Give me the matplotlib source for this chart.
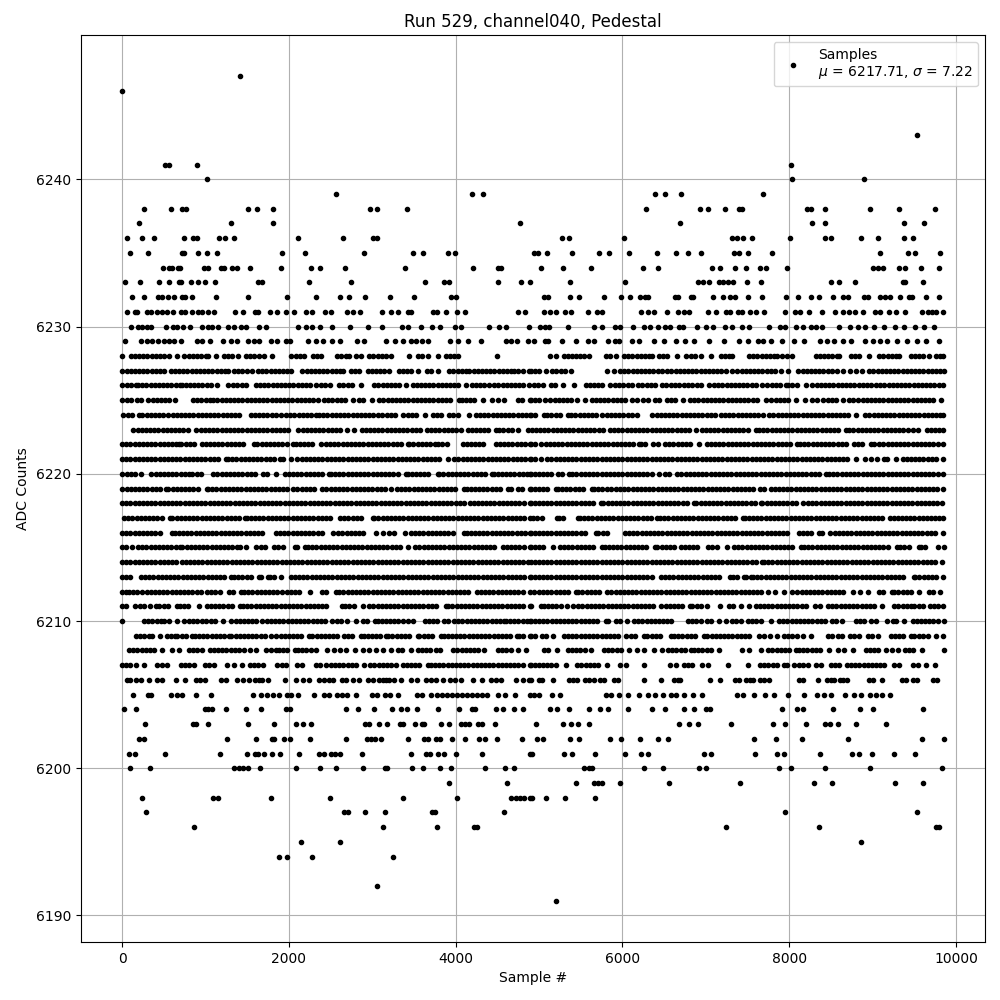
import matplotlib
matplotlib.use("Agg")
import matplotlib.pyplot as plt

TITLE = "Run 529, channel040, Pedestal"
XLABEL = "Sample #"
YLABEL = "ADC Counts"
LEGEND = "Samples\n$\\mu$ = 6217.71, $\\sigma$ = 7.22"

s6247 = [1416]
s6246 = [0]
s6243 = [9536]
s6241 = [516,564,900,8024]
s6240 = [1020,8036,8900]
s6239 = [2568,4200,4332,6392,6512,6704,7688]
s6238 = [264,588,720,768,1512,1620,1812,2976,3060,3420,6284,6932,7028,7232,7400,7436,8212,8260,8432,8972,9320,9752]
s6237 = [204,1308,1812,4776,6692,8276,8432,9380,9620]
s6236 = [60,240,384,744,852,900,1164,1236,1344,2116,2652,3004,3060,5276,5360,6020,7316,7376,7448,7556,8012,8432,8504,8864,9068,9380,9488]
s6235 = [96,312,720,744,912,1020,1140,1920,2196,2904,3492,3612,3912,3996,4940,4988,5096,5396,5720,5840,6080,6416,6644,6788,6944,7340,7400,7508,7796,9092,9428,9512,9812]
s6234 = [492,564,600,672,696,984,1032,1188,1224,1320,1380,1536,1908,2268,2376,2668,3396,4212,4512,4548,5024,5288,5624,6248,6428,7076,7172,7352,7484,7652,7724,7976,9008,9068,9128,9320,9392,9584,9800]
s6233 = [36,216,444,564,684,708,828,912,996,1116,1632,1680,2244,2748,3636,3864,3924,4512,4788,4896,5372,6032,6908,6968,7040,7160,7208,7268,7328,7496,7664,8504,8600,8792,9368,9392,9608]
s6232 = [120,264,432,480,552,624,720,756,840,1128,1512,1980,2328,2608,2716,2916,3216,3504,3948,4008,5060,5108,5372,5480,5780,5984,6092,6212,6272,6308,6632,6668,6824,6848,7088,7208,7292,7352,7508,7676,7964,8108,8264,8360,8528,8648,8708,8900,8948,9092,9152,9212,9332,9440,9476,9644,9800]
s6231 = [60,156,180,300,348,420,480,540,612,708,756,840,912,960,1032,1104,1356,1452,1596,1632,1776,1860,1968,2064,2208,2280,2436,2508,2700,2772,2856,3120,3228,3312,3432,3468,3732,3780,3888,4020,4116,4752,4836,5060,5132,5204,5312,5384,5588,5696,5756,6224,6308,6380,6536,6668,6740,6800,7028,7124,7244,7292,7388,7436,7532,7604,7700,7952,8072,8132,8240,8396,8552,8648,8720,8792,8888,9032,9092,9200,9284,9392,9596,9668,9716,9764,9848]
s6230 = [108,192,240,300,348,528,612,660,732,816,960,1032,1080,1152,1272,1344,1428,1488,1644,1728,2112,2208,2280,2376,2520,2736,2952,3120,3360,3432,3588,3720,3816,3996,4068,4404,4524,4608,4884,5012,5072,5120,5348,5660,5756,5912,5972,6128,6260,6332,6428,6512,6572,6680,6728,6896,7004,7088,7232,7316,7436,7520,7760,7892,7952,8084,8168,8264,8324,8396,8600,8732,8828,8912,9020,9140,9272,9380,9512,9620,9740]
s6229 = [36,228,300,360,432,504,564,624,708,900,960,1056,1212,1308,1380,1512,1584,1644,1788,1860,1968,2016,2232,2328,2412,2520,2616,2820,2904,3168,3276,3372,3468,3528,3600,3672,3936,4032,4152,4308,4608,4668,4740,4872,4940,5072,5108,5276,5444,5588,5660,5828,5912,5960,6116,6200,6380,6500,6644,6752,6860,7040,7220,7400,7508,7628,7688,7784,7916,8060,8180,8372,8456,8540,8648,8744,8912,9008,9092,9176,9296,9416,9536,9644,9800]
s6228 = [0,104,154,204,254,304,354,404,454,504,564,660,744,804,852,902,952,1002,1032,1128,1224,1274,1324,1392,1484,1534,1584,1644,1704,1800,2032,2082,2132,2184,2288,2338,2384,2576,2626,2684,2724,2804,2864,2964,3014,3064,3114,3164,3224,3444,3552,3602,3664,3784,3884,3934,3984,4024,4492,5132,5200,5300,5350,5400,5440,5490,5540,5600,5800,5850,5920,6020,6070,6120,6170,6220,6270,6320,6360,6440,6490,6540,6660,6760,6820,6870,6940,7060,7180,7230,7280,7320,7520,7570,7620,7670,7720,7770,7820,7860,7920,7970,8040,8320,8370,8420,8470,8520,8570,8600,8740,8790,8840,8960,9080,9130,9180,9230,9280,9320,9460,9510,9560,9610,9680,9760,9810,9850]
s6227 = [4,54,104,154,204,254,304,354,404,454,504,584,634,684,734,784,834,884,934,984,1034,1084,1134,1184,1234,1276,1344,1394,1444,1494,1564,1632,1682,1732,1782,1832,1882,1932,1984,2032,2164,2214,2264,2314,2364,2414,2464,2514,2564,2614,2644,2744,2794,2844,2944,2994,3044,3094,3144,3204,3316,3366,3416,3466,3544,3656,3706,3784,3924,3974,4024,4074,4124,4164,4216,4266,4316,4366,4416,4466,4516,4566,4616,4664,4704,4754,4804,4884,4900,4950,5000,5080,5160,5210,5260,5310,5380,5820,5900,5972,6022,6072,6122,6172,6222,6272,6322,6372,6422,6472,6532,6588,6638,6688,6738,6788,6838,6888,6938,6988,7038,7088,7138,7188,7238,7312,7380,7430,7480,7530,7580,7630,7680,7730,7780,7830,7908,7988,8112,8162,8212,8262,8312,8362,8412,8472,8520,8570,8652,8732,8800,8868,8960,9010,9060,9110,9160,9210,9260,9310,9360,9410,9460,9510,9560,9610,9660,9710,9760,9810,9856]
s6226 = [4,54,104,164,192,242,292,342,392,442,492,542,592,642,692,724,764,814,864,914,964,1014,1064,1136,1276,1326,1376,1444,1484,1604,1656,1706,1756,1806,1856,1906,1956,2006,2056,2106,2156,2206,2256,2324,2384,2434,2496,2604,2654,2704,2754,2864,3024,3074,3124,3174,3224,3274,3324,3404,3484,3534,3584,3634,3684,3734,3784,3834,3884,3934,3984,4034,4124,4192,4242,4292,4342,4404,4464,4514,4564,4614,4664,4714,4764,4814,4884,4940,4990,5052,5148,5198,5292,5420,5560,5610,5660,5710,5760,5852,5912,5962,6012,6062,6112,6188,6240,6290,6340,6390,6480,6528,6578,6628,6680,6740,6790,6840,6890,6940,7040,7100,7150,7200,7250,7300,7350,7400,7450,7500,7550,7600,7680,7740,7790,7840,7890,7960,7988,8038,8100,8200,8280,8330,8380,8430,8480,8532,8582,8632,8682,8732,8782,8832,8882,8932,8982,9040,9092,9142,9192,9242,9292,9342,9392,9442,9492,9542,9592,9642,9692,9742,9792,9850]
s6225 = [4,54,104,176,232,316,366,416,466,516,566,632,852,902,952,1002,1052,1096,1144,1194,1244,1294,1344,1394,1444,1494,1544,1594,1644,1694,1744,1794,1844,1894,1944,1994,2044,2094,2144,2194,2244,2294,2356,2424,2474,2524,2574,2624,2674,2764,2844,2894,2996,3084,3134,3184,3234,3284,3334,3384,3434,3484,3534,3584,3634,3684,3734,3784,3834,3884,3934,4036,4076,4126,4176,4226,4324,4432,4504,4584,4752,4802,4896,4900,4950,5000,5068,5132,5188,5238,5288,5338,5388,5460,5552,5632,5682,5732,5782,5832,5882,5932,5982,6032,6120,6180,6252,6312,6388,6438,6540,6580,6630,6732,6812,6862,6912,6962,7012,7062,7112,7162,7212,7262,7312,7362,7412,7462,7512,7562,7612,7720,7788,7838,7888,7938,7988,8080,8188,8280,8330,8412,8468,8518,8568,8652,8720,8770,8820,8880,8930,8980,9030,9080,9130,9180,9230,9280,9330,9380,9430,9480,9530,9580,9630,9680,9730,9820]
s6224 = [16,66,116,204,244,294,344,394,444,496,556,606,656,706,756,806,856,906,956,1006,1056,1106,1156,1206,1256,1306,1356,1404,1544,1594,1644,1694,1744,1794,1844,1912,1968,2018,2068,2118,2168,2218,2268,2324,2364,2414,2464,2514,2564,2614,2664,2714,2764,2814,2864,2914,2964,3014,3064,3114,3176,3224,3274,3364,3424,3474,3524,3636,3724,3774,3824,3924,3964,4024,4164,4244,4294,4344,4394,4444,4494,4544,4594,4644,4694,4744,4794,4844,4896,4900,4950,5060,5100,5150,5200,5250,5348,5388,5438,5488,5538,5588,5638,5688,5760,5812,5862,5912,5962,6012,6062,6112,6180,6360,6410,6460,6510,6560,6610,6660,6710,6760,6810,6860,6910,6960,7010,7060,7110,7180,7232,7282,7332,7382,7432,7482,7532,7582,7632,7682,7760,7812,7862,7912,7962,8012,8062,8112,8162,8212,8262,8312,8362,8412,8462,8512,8562,8612,8662,8712,8800,8912,8962,9012,9062,9112,9162,9212,9262,9312,9362,9412,9462,9512,9562,9612,9662,9712,9762,9812,9850]
s6223 = [136,186,236,286,336,386,436,486,536,586,636,686,736,786,884,944,994,1044,1094,1144,1194,1244,1294,1344,1394,1444,1494,1544,1594,1644,1694,1744,1794,1844,1894,1944,1992,2116,2166,2216,2266,2316,2366,2416,2466,2516,2566,2616,2692,2784,2872,2922,2972,3022,3072,3122,3172,3222,3272,3322,3372,3422,3472,3522,3576,3656,3706,3756,3806,3856,3906,3956,4006,4064,4144,4194,4244,4294,4344,4394,4484,4524,4574,4624,4674,4744,4864,4914,4964,5014,5064,5114,5164,5214,5264,5314,5364,5414,5464,5514,5564,5614,5664,5714,5764,5852,5900,5950,6000,6050,6100,6150,6200,6250,6300,6350,6400,6450,6500,6550,6600,6650,6700,6750,6800,6880,6952,7002,7052,7102,7152,7202,7252,7302,7352,7402,7452,7502,7600,7640,7690,7740,7790,7840,7890,7940,7990,8040,8090,8140,8190,8240,8290,8340,8390,8440,8490,8540,8590,8680,8720,8770,8820,8870,8920,8970,9020,9070,9120,9170,9220,9270,9320,9370,9420,9480,9540,9648,9698,9748,9798,9850]
s6222 = [0,50,100,150,200,250,300,350,400,450,500,550,600,650,684,712,762,812,862,964,1004,1054,1104,1154,1204,1254,1304,1354,1404,1454,1584,1624,1674,1724,1774,1824,1874,1924,1974,2052,2084,2134,2184,2234,2284,2384,2444,2494,2544,2594,2644,2694,2744,2794,2844,2894,2944,2994,3044,3094,3144,3194,3244,3294,3344,3424,3444,3494,3544,3594,3644,3694,3756,3792,3842,3896,4084,4134,4184,4234,4284,4334,4484,4532,4582,4632,4682,4732,4782,4832,4896,4900,4950,5020,5080,5132,5182,5232,5282,5332,5382,5432,5482,5532,5582,5632,5682,5732,5782,5832,5882,5932,5982,6032,6082,6132,6200,6220,6270,6372,6428,6512,6562,6612,6662,6712,6762,6812,6920,7012,7062,7112,7162,7212,7262,7312,7362,7412,7462,7512,7562,7612,7662,7712,7762,7812,7862,7912,7962,8012,8100,8132,8182,8232,8282,8332,8382,8432,8482,8532,8582,8632,8682,8780,8820,8870,8980,9020,9080,9130,9180,9230,9280,9330,9380,9430,9480,9530,9580,9630,9680,9730,9780,9850]
s6221 = [0,50,100,150,200,250,300,350,400,450,500,550,600,650,700,750,800,850,900,950,1000,1050,1100,1150,1244,1272,1322,1372,1422,1472,1522,1572,1622,1672,1722,1772,1822,1892,1936,2032,2104,2154,2204,2254,2304,2354,2404,2454,2504,2554,2604,2654,2704,2754,2804,2854,2904,2954,3004,3054,3104,3154,3204,3254,3304,3354,3404,3454,3504,3554,3604,3654,3704,3754,3804,3904,3984,4034,4084,4134,4184,4234,4284,4334,4384,4434,4484,4534,4584,4634,4684,4734,4784,4834,4896,4900,4950,5020,5100,5150,5200,5250,5300,5350,5400,5450,5500,5550,5600,5650,5700,5750,5800,5850,5900,5950,6000,6050,6100,6150,6200,6250,6300,6350,6400,6450,6500,6550,6600,6650,6700,6750,6800,6850,6900,6950,7000,7050,7100,7150,7200,7250,7300,7350,7400,7450,7500,7550,7600,7650,7700,7750,7800,7850,7900,7950,8000,8050,8100,8150,8200,8250,8300,8350,8400,8450,8500,8550,8600,8650,8700,8800,8912,8980,9052,9132,9172,9280,9360,9410,9460,9510,9560,9610,9660,9710,9760,9840]
s6220 = [4,54,104,154,232,352,402,452,502,552,602,652,702,752,804,844,894,944,1092,1144,1194,1244,1294,1344,1394,1444,1494,1544,1594,1692,1744,1844,1952,2002,2052,2102,2152,2202,2252,2302,2352,2402,2484,2504,2554,2604,2654,2704,2754,2804,2854,2904,2954,3004,3054,3104,3154,3204,3254,3304,3404,3424,3474,3524,3574,3624,3674,3784,3804,3854,3904,3954,4004,4054,4104,4154,4204,4254,4304,4354,4432,4456,4506,4556,4606,4656,4706,4756,4806,4856,4896,4900,4950,5000,5050,5100,5148,5228,5278,5360,5400,5450,5500,5550,5600,5650,5700,5750,5800,5850,5900,5950,6000,6050,6100,6150,6200,6250,6300,6350,6440,6512,6562,6660,6708,6758,6808,6858,6908,6958,7008,7058,7108,7158,7208,7258,7308,7358,7408,7458,7508,7558,7608,7658,7708,7758,7808,7858,7908,7958,8008,8058,8108,8158,8208,8258,8308,8358,8440,8480,8530,8580,8630,8680,8730,8780,8830,8880,8930,8980,9030,9080,9130,9180,9230,9280,9330,9380,9430,9480,9530,9580,9630,9680,9730,9780,9850]
s6219 = [4,54,104,154,204,254,304,354,404,454,524,556,606,656,706,756,806,856,906,1016,1032,1082,1132,1182,1232,1282,1332,1382,1432,1482,1532,1582,1632,1682,1732,1782,1832,1882,1932,1982,2056,2104,2154,2204,2254,2304,2404,2452,2502,2552,2602,2652,2702,2752,2802,2852,2902,2952,3002,3052,3102,3152,3224,3296,3346,3396,3446,3496,3546,3596,3646,3696,3746,3796,3846,3896,3946,3996,4096,4132,4182,4232,4282,4332,4382,4432,4482,4532,4624,4664,4744,4794,4896,4900,4950,5000,5050,5100,5200,5228,5278,5328,5378,5428,5478,5528,5632,5660,5710,5760,5810,5860,5928,5972,6022,6072,6122,6172,6222,6272,6322,6372,6422,6472,6522,6572,6622,6672,6722,6772,6822,6872,6922,6972,7022,7072,7122,7172,7222,7272,7322,7372,7422,7472,7522,7572,7652,7700,7788,7828,7878,7928,7978,8028,8078,8128,8178,8228,8278,8328,8378,8428,8478,8528,8578,8628,8678,8728,8778,8828,8878,8928,8978,9028,9078,9128,9178,9228,9278,9328,9378,9428,9478,9528,9578,9628,9678,9728,9778,9850]
s6218 = [0,50,100,150,200,250,300,350,400,450,500,550,600,650,700,750,800,850,900,950,1000,1050,1100,1150,1200,1250,1300,1350,1400,1450,1500,1550,1600,1650,1700,1750,1800,1850,1900,1950,2000,2050,2100,2150,2200,2250,2300,2350,2400,2450,2500,2550,2600,2650,2700,2750,2800,2850,2900,2950,3000,3050,3100,3150,3200,3250,3300,3350,3400,3450,3500,3550,3600,3650,3700,3750,3800,3850,3900,3950,4000,4050,4100,4176,4216,4266,4316,4366,4416,4466,4516,4566,4616,4666,4716,4766,4816,4896,4900,4950,5000,5050,5100,5150,5200,5250,5300,5350,5400,5450,5500,5550,5600,5650,5740,5772,5822,5872,5922,5972,6022,6072,6122,6172,6222,6272,6322,6372,6422,6472,6522,6572,6622,6672,6722,6772,6860,6888,6938,6988,7038,7088,7138,7188,7238,7288,7338,7388,7438,7488,7538,7588,7660,7680,7730,7780,7830,7880,7930,7980,8030,8080,8172,8228,8278,8328,8378,8428,8478,8528,8578,8628,8678,8728,8778,8828,8878,8928,8978,9028,9078,9128,9178,9228,9278,9328,9378,9428,9478,9528,9578,9628,9678,9728,9778,9830]
s6217 = [24,74,124,174,224,274,324,374,424,474,572,604,654,704,754,804,854,904,954,1004,1054,1104,1154,1204,1254,1304,1354,1404,1472,1496,1546,1596,1646,1696,1746,1796,1846,1896,1946,1996,2046,2096,2146,2196,2246,2296,2346,2396,2446,2496,2616,2664,2714,2764,2814,2864,3004,3024,3074,3124,3174,3224,3274,3324,3374,3424,3474,3524,3574,3624,3674,3724,3774,3824,3874,3924,3974,4024,4074,4124,4174,4224,4274,4324,4374,4424,4474,4524,4574,4624,4674,4724,4774,4824,4896,4932,4982,5032,5212,5240,5290,5468,5492,5542,5592,5642,5692,5742,5792,5842,5892,5942,5992,6042,6092,6142,6192,6242,6292,6342,6412,6452,6502,6552,6602,6652,6702,6752,6802,6852,6902,6952,7002,7052,7102,7152,7202,7252,7302,7352,7452,7468,7518,7568,7618,7668,7718,7768,7818,7868,7918,7968,8018,8068,8118,8168,8218,8268,8318,8368,8418,8468,8518,8568,8618,8668,8718,8768,8818,8868,8918,8968,9018,9068,9118,9212,9252,9302,9352,9402,9452,9502,9552,9602,9652,9702,9752,9802,9850]
s6216 = [0,50,100,150,200,250,300,350,400,450,596,632,682,732,782,832,882,932,982,1032,1082,1132,1182,1232,1282,1332,1382,1432,1482,1532,1582,1632,1682,1844,1896,1946,1996,2046,2096,2146,2196,2246,2296,2346,2396,2536,2592,2642,2692,2742,2792,2842,2892,3044,3124,3204,3264,3392,3464,3514,3564,3614,3664,3714,3764,3814,3864,3914,3964,4104,4132,4182,4232,4282,4332,4382,4432,4482,4532,4582,4632,4682,4732,4782,4832,4896,4900,4950,5000,5050,5100,5150,5200,5250,5300,5350,5400,5450,5500,5550,5680,5712,5762,5812,6028,6080,6130,6180,6230,6280,6330,6380,6430,6480,6530,6580,6630,6680,6730,6780,6830,6880,6930,6980,7030,7080,7130,7180,7230,7280,7330,7380,7430,7480,7530,7580,7630,7680,7730,7780,7830,7880,7930,7980,8120,8168,8218,8268,8360,8400,8492,8548,8598,8648,8698,8748,8798,8848,8898,8948,8998,9048,9098,9148,9198,9248,9298,9348,9398,9448,9498,9548,9598,9648,9698,9748,9850]
s6215 = [0,50,124,192,242,292,342,392,442,492,542,592,642,696,724,774,824,874,924,974,1024,1074,1124,1174,1224,1274,1324,1384,1416,1492,1612,1662,1712,1824,1876,1926,2072,2104,2192,2232,2282,2332,2382,2432,2482,2532,2582,2632,2682,2732,2782,2832,2882,2932,2982,3032,3082,3132,3182,3232,3282,3332,3432,3516,3566,3616,3666,3716,3766,3816,3866,3916,3966,4016,4066,4116,4166,4216,4266,4316,4366,4416,4466,4564,4616,4666,4716,4766,4816,4896,4900,4950,5000,5050,5172,5252,5302,5352,5402,5452,5502,5552,5602,5652,5760,5788,5838,5888,5938,5988,6038,6088,6138,6188,6238,6288,6388,6420,6470,6520,6570,6620,6708,6748,6798,6848,6898,7032,7080,7130,7252,7340,7390,7440,7490,7540,7590,7640,7690,7740,7790,7840,7890,7940,7990,8040,8140,8180,8230,8280,8330,8380,8430,8480,8530,8580,8630,8680,8730,8780,8830,8880,8930,8980,9030,9080,9130,9180,9292,9332,9382,9432,9552,9580,9630,9780,9852]
s6214 = [0,50,100,150,200,250,300,350,400,450,500,550,600,650,724,764,814,864,914,964,1014,1064,1114,1164,1214,1264,1314,1364,1414,1464,1514,1564,1614,1664,1714,1764,1814,1864,1914,1964,2014,2064,2114,2164,2214,2264,2314,2364,2414,2464,2514,2564,2614,2664,2714,2764,2814,2864,2914,2964,3014,3064,3114,3164,3214,3264,3314,3364,3414,3464,3514,3564,3614,3664,3714,3764,3814,3864,3914,3964,4014,4064,4114,4164,4214,4264,4314,4364,4414,4464,4514,4564,4614,4664,4714,4764,4814,4864,4900,4950,5000,5050,5100,5150,5200,5250,5300,5350,5400,5450,5500,5550,5600,5650,5700,5750,5800,5850,5900,5950,6000,6050,6100,6150,6200,6250,6300,6350,6400,6450,6500,6550,6600,6650,6700,6750,6800,6850,6900,6950,7000,7050,7100,7150,7200,7250,7300,7350,7400,7450,7500,7550,7600,7680,7700,7750,7800,7850,7900,7950,8000,8050,8100,8150,8200,8250,8300,8350,8400,8450,8500,8550,8600,8650,8700,8750,8800,8850,8900,8950,9000,9050,9100,9150,9200,9250,9300,9350,9400,9450,9500,9550,9600,9650,9700,9750,9830]
s6213 = [0,50,100,232,276,326,376,426,476,526,576,626,676,726,776,826,876,926,976,1026,1076,1126,1176,1226,1312,1344,1394,1444,1494,1544,1644,1664,1756,1776,1826,1912,2024,2074,2124,2174,2224,2274,2324,2374,2424,2474,2524,2574,2624,2674,2724,2774,2824,2874,2924,2974,3024,3074,3124,3174,3224,3274,3324,3374,3424,3474,3524,3574,3624,3674,3724,3774,3824,3874,3924,3974,4024,4074,4124,4174,4224,4274,4324,4374,4424,4474,4524,4574,4624,4674,4724,4774,4824,4896,4900,4950,5000,5050,5100,5150,5200,5250,5300,5350,5400,5450,5500,5550,5600,5650,5700,5750,5800,5850,5900,5950,6000,6050,6100,6150,6200,6250,6300,6350,6460,6512,6562,6612,6662,6712,6762,6812,6862,6912,6962,7012,7062,7112,7162,7288,7328,7378,7460,7488,7540,7568,7618,7668,7718,7768,7818,7868,7918,7968,8018,8068,8118,8168,8218,8268,8318,8368,8418,8468,8518,8568,8618,8668,8718,8768,8818,8868,8918,8968,9018,9068,9118,9168,9218,9268,9318,9368,9492,9512,9562,9612,9662,9712,9762,9850]
s6212 = [0,44,84,134,184,234,304,344,394,444,494,544,594,644,694,744,794,844,894,944,1024,1064,1114,1176,1284,1334,1424,1464,1514,1564,1614,1664,1714,1764,1814,1864,1914,1976,2024,2074,2124,2252,2396,2446,2564,2604,2654,2704,2754,2804,2854,2904,2954,3004,3054,3104,3154,3204,3254,3304,3354,3404,3454,3504,3554,3604,3654,3704,3754,3804,3854,3904,3954,4004,4054,4104,4154,4256,4304,4352,4404,4454,4504,4554,4604,4654,4704,4754,4804,4896,4940,5000,5050,5100,5150,5200,5250,5300,5350,5440,5472,5522,5572,5622,5672,5722,5812,5868,5918,5968,6018,6068,6118,6168,6218,6268,6318,6368,6418,6468,6518,6568,6618,6668,6718,6768,6818,6868,6918,6968,7018,7068,7118,7168,7218,7268,7318,7368,7418,7468,7518,7568,7618,7668,7748,7832,7940,8040,8100,8150,8200,8250,8300,8350,8400,8450,8500,8550,8600,8650,8772,8852,8940,9080,9130,9228,9260,9310,9360,9410,9460,9560,9680,9730,9812]
s6211 = [0,50,152,216,266,336,404,448,504,554,656,696,746,796,920,1016,1066,1116,1166,1216,1266,1316,1416,1452,1502,1552,1602,1652,1702,1752,1802,1852,1902,1952,2002,2052,2102,2152,2202,2252,2302,2352,2402,2452,2632,2676,2726,2776,2884,2964,3014,3064,3114,3164,3214,3264,3314,3364,3414,3464,3514,3564,3614,3664,3714,3764,3884,3912,3962,4012,4062,4112,4162,4212,4262,4312,4362,4412,4462,4512,4562,4612,4662,4712,4762,4812,4896,4900,5028,5060,5110,5160,5210,5260,5332,5412,5472,5522,5572,5622,5672,5722,5772,5822,5872,5922,5972,6022,6072,6122,6172,6222,6272,6322,6372,6460,6520,6570,6620,6670,6720,6812,6840,6890,6940,7020,7172,7280,7330,7420,7520,7600,7650,7700,7750,7800,7850,7900,7950,8000,8050,8100,8150,8200,8308,8372,8468,8518,8568,8618,8668,8718,8768,8818,8868,8918,8968,9018,9108,9260,9310,9360,9410,9460,9500,9560,9600,9688,9738,9788,9850]
s6210 = [0,264,314,364,414,464,504,564,664,744,804,854,904,954,1004,1064,1116,1212,1312,1362,1412,1462,1512,1562,1612,1676,1736,1786,1836,1886,1936,1986,2036,2086,2136,2186,2236,2286,2336,2384,2432,2524,2574,2624,2696,2804,2884,2934,3032,3064,3114,3164,3214,3264,3314,3364,3424,3484,3632,3682,3732,3782,3864,3904,3984,4032,4082,4132,4182,4232,4282,4332,4382,4432,4482,4532,4576,4604,4654,4704,4754,4804,4854,4896,4900,4950,5000,5050,5100,5160,5200,5250,5300,5350,5400,5450,5500,5550,5600,5650,5700,5800,5828,5920,5972,6060,6140,6190,6240,6290,6340,6390,6440,6490,6540,6588,6788,6838,6888,6938,7020,7060,7160,7240,7320,7360,7428,7508,7558,7608,7660,7788,7880,7930,7980,8030,8080,8130,8180,8230,8280,8330,8380,8430,8520,8560,8640,8800,8850,8900,8980,9040,9172,9240,9280,9372,9480,9530,9580,9630,9680,9730,9780,9856]
s6209 = [168,218,268,318,364,456,536,586,632,664,714,764,844,872,924,974,1024,1074,1124,1174,1224,1284,1312,1362,1412,1462,1512,1562,1612,1662,1712,1784,1852,1902,1952,2002,2052,2102,2152,2244,2284,2334,2384,2434,2484,2534,2584,2664,2712,2762,2864,2896,2946,2996,3046,3096,3164,3192,3242,3292,3342,3392,3442,3544,3564,3616,3666,3716,3824,3856,3906,3956,4006,4056,4106,4156,4206,4256,4306,4356,4406,4456,4506,4556,4606,4656,4736,4764,4814,4896,4900,4950,5040,5084,5168,5300,5350,5400,5450,5500,5550,5600,5650,5700,5750,5800,5850,5900,5950,6040,6100,6150,6260,6300,6350,6400,6450,6588,6620,6670,6720,6770,6820,6870,6980,7020,7070,7120,7170,7220,7270,7320,7370,7420,7470,7520,7640,7700,7772,7860,7940,7990,8040,8090,8172,8260,8468,8518,8588,8640,8732,8782,8832,8948,8996,9060,9220,9270,9320,9370,9460,9500,9560,9610,9660,9760,9848]
s6208 = [84,134,184,234,284,334,384,484,600,684,804,854,904,964,1052,1102,1152,1202,1252,1302,1352,1402,1464,1536,1604,1732,1782,1844,1884,1934,1984,2072,2112,2162,2212,2272,2328,2464,2544,2616,2684,2796,2884,2964,3048,3124,3228,3304,3354,3464,3544,3594,3644,3694,3764,3816,3972,4022,4072,4122,4172,4222,4272,4336,4504,4554,4604,4664,4744,4844,5060,5110,5220,5348,5398,5448,5498,5548,5628,5780,5830,5880,5930,5980,6080,6180,6260,6380,6480,6548,6598,6648,6698,6748,6820,6860,6910,6960,7010,7060,7160,7440,7520,7668,7748,7800,7850,7900,7950,8000,8080,8120,8170,8220,8270,8320,8370,8480,8588,8660,8768,8920,8970,9020,9070,9160,9228,9300,9388,9438,9488,9588,9856]
s6207 = [0,50,100,164,264,424,474,536,704,754,804,864,996,1046,1104,1264,1344,1440,1532,1582,1632,1692,1864,1914,1964,2104,2164,2324,2374,2444,2504,2554,2604,2654,2704,2754,2804,2904,2976,3026,3076,3126,3176,3226,3284,3364,3414,3464,3514,3564,3664,3704,3754,3804,3854,3904,3954,4004,4054,4104,4154,4204,4254,4304,4354,4404,4454,4504,4554,4604,4654,4704,4754,4804,4896,4900,4950,5000,5050,5100,5150,5200,5320,5460,5510,5560,5610,5660,5710,5820,5972,6040,6260,6572,6640,6740,6790,6840,6960,7028,7268,7508,7652,7702,7752,7802,7852,7940,7980,8060,8120,8170,8228,8320,8380,8500,8550,8600,8692,8742,8792,8842,8892,8942,8992,9042,9092,9142,9252,9320,9480,9540,9636,9752]
s6206 = [64,100,164,224,324,424,484,648,756,884,936,996,1184,1244,1384,1456,1524,1600,1644,1684,1756,1956,2088,2176,2244,2364,2424,2484,2532,2632,2688,2772,2844,2944,3004,3084,3124,3164,3204,3264,3344,3464,3532,3644,3704,3764,3852,3932,3996,4068,4212,4320,4424,4484,4544,4724,4804,4884,4900,5000,5040,5168,5360,5410,5456,5552,5600,5660,5732,5780,5900,5950,6260,6464,6620,6670,6692,7052,7172,7352,7400,7484,7530,7568,7652,7700,7760,8120,8168,8348,8456,8500,8540,8612,8650,8696,8960,9000,9116,9356,9400,9488,9530,9728,9770]
s6205 = [132,312,348,588,660,720,888,1068,1572,1668,1740,1812,1884,1980,2028,2112,2304,2424,2484,2580,2640,2700,2808,3000,3060,3156,3216,3312,3540,3600,3708,3780,3840,3900,3960,4020,4080,4140,4200,4260,4320,4380,4512,4596,4716,4896,4940,5000,5156,5252,5804,5864,5960,6068,6200,6308,6392,6488,6584,6644,6740,6848,6956,7376,7448,7580,7712,7820,7988,8180,8336,8420,8504,8672,8780,8864,8972,9044,9116,9212]
s6204 = [24,168,996,1032,1080,1248,1488,1668,1968,2016,2688,2832,3024,3240,3348,3420,3540,3792,4044,4200,4236,4488,4572,4704,4812,5132,5216,5360,5600,5732,5828,6068,6356,6512,6740,6860,7004,7052,7916,8096,8168,8528,8852,9008,9608]
s6203 = [276,852,888,1032,1512,1824,2088,2172,2268,2916,2964,3084,3180,3336,3372,3516,3600,3624,3828,3924,4068,4116,4164,4272,4320,4476,4964,5288,5384,5468,5600,6680,6800,6908,7304,7808,7952,8204,8432,8492,8588,8804,9164]
s6202 = [204,264,1260,1608,1800,1824,1944,2016,2256,2688,2940,2988,3036,3108,3432,3624,3672,3768,3816,3960,4116,4284,4356,4500,4800,4976,5048,5372,5480,5852,5984,6212,6428,6548,7580,7844,8156,8708,9596,9856]
s6201 = [84,156,516,1176,1500,1596,1632,1704,1800,1896,2124,2364,2424,2508,2556,2616,2880,3468,3648,3696,3792,3864,4008,4320,4896,4916,5300,5396,5672,6032,6224,6308,6980,7064,7592,7856,7940,8372,8756,8840,8996,9260,9512]
s6200 = [96,336,1344,1404,1452,1512,1656,2088,2376,2568,2892,3156,3180,3480,3612,3816,3948,4356,4596,4704,5540,5600,5636,6260,6488,6920,7004,7880,8024,8432,8972,9836]
s6199 = [3924,4620,5444,5660,5708,5756,5972,6560,7412,8300,8516,9272,9608]
s6198 = [240,1092,1152,1788,2496,3372,4020,4668,4728,4776,4824,4896,4916,5084,5312,5672]
s6197 = [288,2664,2712,2916,3156,3720,3756,4584,7952,9536]
s6196 = [864,3132,3780,4224,4260,7244,8360,9764,9800]
s6195 = [2148,2616,8864]
s6194 = [1884,1980,2280,3252]
s6192 = [3060]
s6191 = [5204]

levels = [6247,6246,6243,6241,6240,6239,6238,6237,6236,6235,6234,6233,6232,6231,6230,6229,6228,
          6227,6226,6225,6224,6223,6222,6221,6220,6219,6218,6217,6216,6215,6214,6213,6212,6211,6210,
          6209,6208,6207,6206,6205,6204,6203,6202,6201,6200,6199,6198,6197,6196,6195,6194,6192,6191]
rows = [s6247,s6246,s6243,s6241,s6240,s6239,s6238,s6237,s6236,s6235,s6234,s6233,s6232,s6231,s6230,s6229,s6228,
        s6227,s6226,s6225,s6224,s6223,s6222,s6221,s6220,s6219,s6218,s6217,s6216,s6215,s6214,s6213,s6212,s6211,s6210,
        s6209,s6208,s6207,s6206,s6205,s6204,s6203,s6202,s6201,s6200,s6199,s6198,s6197,s6196,s6195,s6194,s6192,s6191]

samples, counts = [], []
for level, row in zip(levels, rows):
    samples.extend(row)
    counts.extend([level] * len(row))

fig, ax = plt.subplots(figsize=(10, 10), dpi=100)
ax.plot(samples, counts, "k.", label=LEGEND)
ax.set_title(TITLE)
ax.set_xlabel(XLABEL)
ax.set_ylabel(YLABEL)
ax.set_xlim(-492, 10349)
ax.set_ylim(6188.2, 6249.8)
ax.grid(True)
ax.legend(loc="upper right")
fig.subplots_adjust(left=0.081, right=0.985, top=0.965, bottom=0.058)
fig.savefig("out.png", dpi=100)
